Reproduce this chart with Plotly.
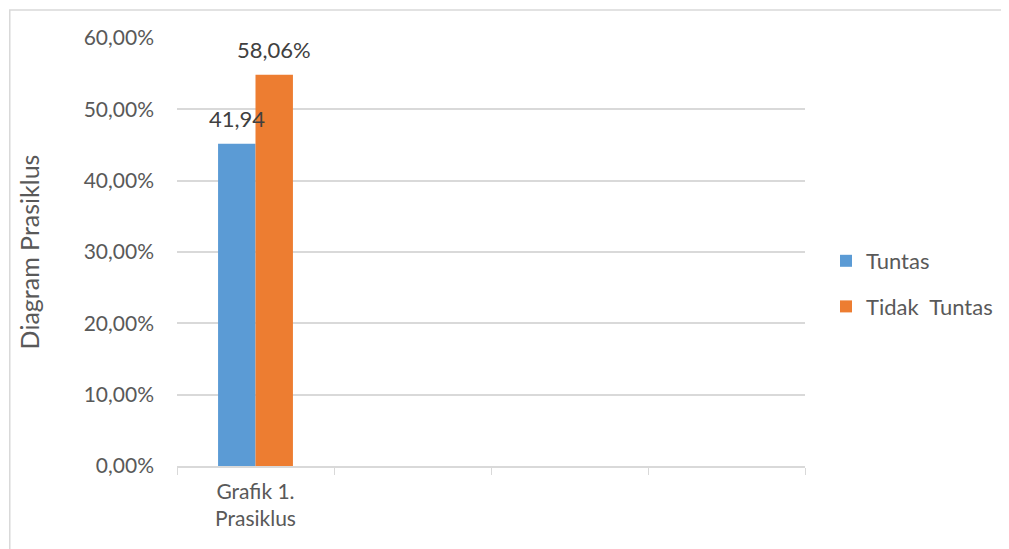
import plotly.graph_objects as go

categories = ["Grafik 1.<br>Prasiklus", " ", "  ", "   "]
series_names = ["Tuntas", "Tidak  Tuntas"]
tuntas_values = [0.4516]
tidak_values = [0.5484]
tuntas_labels = ["41,94"]
tidak_labels = ["58,06%"]
colors = ["#5b9bd5", "#ed7d31"]

FONT = "Lato"
W, H = 1001, 541
L, R, T, B = 169, 203, 30, 83
pw, ph = W - L - R, H - T - B

fig = go.Figure()
fig.add_trace(go.Bar(x=categories[:1], y=tuntas_values, name=series_names[0],
                     marker_color=colors[0], marker_line_width=0, legendgroup="a"))
fig.add_trace(go.Bar(x=categories[:1], y=tidak_values, name=series_names[1],
                     marker_color=colors[1], marker_line_width=0, legendgroup="b"))
# empty categories to hold slots
fig.add_trace(go.Scatter(x=categories, y=[None]*4, showlegend=False, hoverinfo="skip"))

# data labels above each bar
slot_px = pw / 4
bar_px = slot_px * (1 - 0.523) / 2
for vals, labs, sgn in [(tuntas_values, tuntas_labels, -1), (tidak_values, tidak_labels, 1)]:
    for c, v, t in zip(categories, vals, labs):
        fig.add_annotation(x=c, y=v, text=t, showarrow=False, xshift=sgn * bar_px / 2,
                           yshift=25, yanchor="middle", xanchor="center",
                           font=dict(family=FONT, size=22, color="#404040"))

def px_x(p):
    return (p - L) / pw

def px_y(p):
    return (H - B - p) / ph

fig.add_shape(type="rect", xref="paper", yref="paper",
              x0=px_x(1.5), x1=px_x(1030), y0=px_y(2), y1=px_y(570),
              line=dict(color="#d9d9d9", width=1.5), fillcolor="rgba(0,0,0,0)", layer="below")

fig.update_layout(
    width=W, height=H,
    margin=dict(l=L, r=R, t=T, b=B),
    paper_bgcolor="white", plot_bgcolor="white",
    barmode="group", bargap=0.523, bargroupgap=0,
    separators=",.",
    font=dict(family=FONT, color="#595959", size=20),
    showlegend=True,
    legend=dict(x=px_x(818), y=px_y(232), xanchor="left", yanchor="top",
                font=dict(family=FONT, size=22, color="#595959"), tracegroupgap=14,
                itemwidth=30),
    xaxis=dict(type="category", categoryorder="array", categoryarray=categories,
               tickson="boundaries", ticks="outside", ticklen=7, tickcolor="#d9d9d9",
               showline=True, linecolor="#d9d9d9", linewidth=1.5, showgrid=False,
               ticklabelstandoff=6,
               tickfont=dict(family=FONT, size=21, color="#595959"), range=[-0.5, 3.5]),
    yaxis=dict(range=[0, 0.6], dtick=0.1, tickformat=".2%", showgrid=True,
               gridcolor="#d9d9d9", gridwidth=1.5, zeroline=False, showline=False,
               ticks="", ticklabelstandoff=22,
               title=dict(text="Diagram Prasiklus", font=dict(family=FONT, size=25, color="#595959"),
                          standoff=36),
               tickfont=dict(family=FONT, size=21, color="#595959")),
)

fig.write_html("out.html")
